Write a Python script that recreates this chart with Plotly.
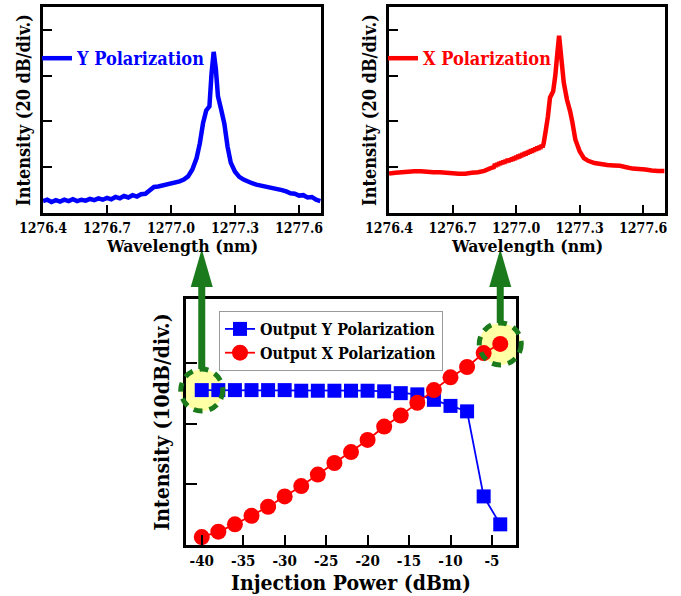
import plotly.graph_objects as go

W, H = 681, 596

# ---------------- data ----------------
wl_y = [1276.40, 1276.42, 1276.44, 1276.46, 1276.48, 1276.50, 1276.52, 1276.54, 1276.56, 1276.58,
        1276.60, 1276.62, 1276.64, 1276.66, 1276.68, 1276.70, 1276.72, 1276.74, 1276.76, 1276.78,
        1276.80, 1276.82, 1276.84, 1276.86, 1276.88, 1276.90, 1276.92, 1276.94, 1276.96, 1276.98,
        1277.00, 1277.02, 1277.04, 1277.06, 1277.08, 1277.10, 1277.12, 1277.135, 1277.15, 1277.165,
        1277.18, 1277.19, 1277.20, 1277.21, 1277.22, 1277.235, 1277.25, 1277.265, 1277.28, 1277.30,
        1277.32, 1277.34, 1277.36, 1277.38, 1277.40, 1277.42, 1277.44, 1277.46, 1277.48, 1277.50,
        1277.52, 1277.54, 1277.56, 1277.58, 1277.60, 1277.62, 1277.64, 1277.66, 1277.68, 1277.70]
int_y = [0.26, 0.29, 0.24, 0.28, 0.25, 0.29, 0.26, 0.30, 0.26, 0.29,
         0.27, 0.31, 0.28, 0.32, 0.29, 0.33, 0.30, 0.35, 0.32, 0.37,
         0.34, 0.39, 0.36, 0.41, 0.42, 0.50, 0.57, 0.58, 0.60, 0.62,
         0.64, 0.67, 0.69, 0.73, 0.80, 0.95, 1.20, 1.52, 1.96, 2.24,
         2.33, 3.05, 3.52, 3.15, 2.55, 2.26, 1.95, 1.45, 1.10, 0.90,
         0.79, 0.73, 0.68, 0.65, 0.62, 0.60, 0.58, 0.57, 0.55, 0.54,
         0.50, 0.47, 0.43, 0.42, 0.38, 0.39, 0.34, 0.35, 0.29, 0.26]

wl_x = [1276.40, 1276.43, 1276.46, 1276.49, 1276.52, 1276.55, 1276.58, 1276.61, 1276.64, 1276.67,
        1276.70, 1276.73, 1276.76, 1276.79, 1276.82, 1276.85, 1276.88, 1276.895, 1276.90, 1276.905,
        1276.91, 1276.915, 1276.92, 1276.925, 1276.93, 1276.935, 1276.94, 1276.945, 1276.95, 1276.955,
        1276.96, 1276.965, 1276.97, 1276.975, 1276.98, 1276.985, 1276.99, 1276.995, 1277.00, 1277.005,
        1277.01, 1277.015, 1277.02, 1277.025, 1277.03, 1277.035, 1277.04, 1277.045, 1277.05, 1277.055,
        1277.06, 1277.065, 1277.07, 1277.075, 1277.08, 1277.085, 1277.09, 1277.095, 1277.10, 1277.105,
        1277.11, 1277.115, 1277.12, 1277.125, 1277.13, 1277.14, 1277.15, 1277.16, 1277.175, 1277.185,
        1277.195, 1277.203, 1277.212, 1277.225, 1277.24, 1277.255, 1277.265, 1277.28, 1277.30, 1277.32,
        1277.34, 1277.37, 1277.40, 1277.43, 1277.46, 1277.49, 1277.52, 1277.55, 1277.58, 1277.61,
        1277.64, 1277.67, 1277.70]
int_x = [0.86, 0.88, 0.89, 0.90, 0.91, 0.91, 0.90, 0.89, 0.89, 0.88,
         0.87, 0.86, 0.86, 0.88, 0.89, 0.92, 0.98, 1.00, 1.07, 1.01,
         1.09, 1.03, 1.11, 1.05, 1.13, 1.07, 1.14, 1.08, 1.16, 1.10,
         1.18, 1.11, 1.19, 1.13, 1.21, 1.14, 1.23, 1.16, 1.25, 1.18,
         1.27, 1.20, 1.29, 1.22, 1.31, 1.24, 1.33, 1.26, 1.35, 1.28,
         1.37, 1.30, 1.39, 1.32, 1.41, 1.34, 1.43, 1.36, 1.45, 1.38,
         1.47, 1.40, 1.49, 1.43, 1.52, 1.80, 2.10, 2.52, 2.66, 3.00,
         3.50, 3.87, 3.45, 2.85, 2.48, 2.22, 2.00, 1.60, 1.35, 1.20,
         1.14, 1.09, 1.07, 1.05, 1.04, 1.03, 1.00, 0.97, 0.96, 0.95,
         0.93, 0.92, 0.92]

power = [-40, -38, -36, -34, -32, -30, -28, -26, -24, -22,
         -20, -18, -16, -14, -12, -10, -8, -6, -4]
out_y = [2.55, 2.55, 2.55, 2.55, 2.55, 2.55, 2.54, 2.54, 2.54, 2.54,
         2.54, 2.53, 2.50, 2.48, 2.39, 2.29, 2.20, 0.80, 0.34]
out_x = [0.13, 0.22, 0.34, 0.48, 0.63, 0.80, 0.97, 1.16, 1.35, 1.53,
         1.73, 1.95, 2.13, 2.34, 2.55, 2.76, 2.93, 3.16, 3.31]

wl_ticks = [1276.4, 1276.7, 1277.0, 1277.3, 1277.6]
wl_ticktext = ["1276.4", "1276.7", "1277.0", "1277.3", "1277.6"]
power_ticks = [-40, -35, -30, -25, -20, -15, -10, -5]
power_ticktext = ["-40", "-35", "-30", "-25", "-20", "-15", "-10", "-5"]
top_div_ticks = [0, 1, 2, 3, 4]
bot_div_ticks = [0, 1, 2, 3]

# ---------------- style ----------------
FONT = "DejaVu Serif Condensed"
BLUE = "#0000ff"
RED = "#ff0000"
GREEN = "#1b7a1b"
BLACK = "#000000"

dom_tl_x = [43 / W, 321 / W]
dom_tr_x = [389 / W, 665 / W]
dom_top_y = [1 - 213 / H, 1 - 7 / H]
dom_b_x = [186 / W, 516 / W]
dom_b_y = [1 - 545 / H, 1 - 299 / H]

wl_range = [1276.4, 1277.703]
top_range = [0, 4.5]
pw_range = [-41.9, -2.1]
bot_range = [0, 4.05]

fig = go.Figure()

fig.add_trace(go.Scatter(x=wl_y, y=int_y, mode="lines", name="Y Polarization",
                         line=dict(color=BLUE, width=4.5), xaxis="x", yaxis="y",
                         legend="legend2"))
fig.add_trace(go.Scatter(x=wl_x, y=int_x, mode="lines", name="X Polarization",
                         line=dict(color=RED, width=4.5, simplify=False), xaxis="x2", yaxis="y2",
                         legend="legend3"))
fig.add_trace(go.Scatter(x=power, y=out_y, mode="lines+markers", name="Output Y Polarization",
                         line=dict(color=BLUE, width=1.8),
                         marker=dict(symbol="square", size=14, color=BLUE),
                         xaxis="x3", yaxis="y3", legend="legend"))
fig.add_trace(go.Scatter(x=power, y=out_x, mode="lines+markers", name="Output X Polarization",
                         line=dict(color=RED, width=1.8),
                         marker=dict(symbol="circle", size=16, color=RED),
                         xaxis="x3", yaxis="y3", legend="legend"))


def axis_common(**kw):
    d = dict(showline=True, linewidth=3, linecolor=BLACK, mirror=True, showgrid=False,
             zeroline=False, ticks="inside", tickwidth=2, tickcolor=BLACK, automargin=False)
    d.update(kw)
    return d


def bold(size, color=BLACK):
    return dict(family=FONT, size=size, color=color, weight="bold")


fig.update_layout(
    width=W, height=H, margin=dict(l=0, r=0, t=0, b=0, autoexpand=False),
    paper_bgcolor="white", plot_bgcolor="white",
    font=dict(family=FONT, color=BLACK),
    xaxis=axis_common(domain=dom_tl_x, anchor="y", range=wl_range, tickvals=wl_ticks,
                      ticktext=wl_ticktext, ticklen=8, tickfont=bold(14)),
    yaxis=axis_common(domain=dom_top_y, anchor="x", range=top_range, tickvals=top_div_ticks,
                      showticklabels=False, ticklen=9,
                      title=dict(text="Intensity (20 dB/div.)", standoff=5, font=bold(18))),
    xaxis2=axis_common(domain=dom_tr_x, anchor="y2", range=wl_range, tickvals=wl_ticks,
                       ticktext=wl_ticktext, ticklen=8, tickfont=bold(14)),
    yaxis2=axis_common(domain=dom_top_y, anchor="x2", range=top_range, tickvals=top_div_ticks,
                       showticklabels=False, ticklen=9,
                       title=dict(text="Intensity (20 dB/div.)", standoff=5, font=bold(18))),
    xaxis3=axis_common(domain=dom_b_x, anchor="y3", range=pw_range, tickvals=power_ticks,
                       ticktext=power_ticktext, ticklen=10, tickfont=bold(15),
                       title=dict(text="Injection Power (dBm)", standoff=2, font=bold(21))),
    yaxis3=axis_common(domain=dom_b_y, anchor="x3", range=bot_range, tickvals=bot_div_ticks,
                       showticklabels=False, ticklen=11,
                       title=dict(text="Intensity (10dB/div.)", standoff=8, font=bold(21))),
    legend=dict(x=219 / W, y=1 - 311 / H, xanchor="left", yanchor="top",
                bgcolor="white", bordercolor="#999999", borderwidth=1,
                font=bold(16), itemwidth=30, tracegroupgap=0),
    legend2=dict(x=37 / W, y=1 - 40 / H, xanchor="left", yanchor="top",
                 bgcolor="rgba(0,0,0,0)", font=bold(18, BLUE), itemwidth=30),
    legend3=dict(x=383 / W, y=1 - 40 / H, xanchor="left", yanchor="top",
                 bgcolor="rgba(0,0,0,0)", font=bold(18, RED), itemwidth=30),
    showlegend=True,
)

# x-axis titles of the two spectra, placed tight under the tick labels
title_y = 1 - 246 / H
fig.add_annotation(text="Wavelength (nm)", xref="paper", yref="paper",
                   x=(dom_tl_x[0] + dom_tl_x[1]) / 2, y=title_y, xanchor="center",
                   yanchor="middle", showarrow=False, font=bold(17.5))
fig.add_annotation(text="Wavelength (nm)", xref="paper", yref="paper",
                   x=(dom_tr_x[0] + dom_tr_x[1]) / 2, y=title_y, xanchor="center",
                   yanchor="middle", showarrow=False, font=bold(17.5))


def to_paper(v, rng, dom):
    return dom[0] + (v - rng[0]) / (rng[1] - rng[0]) * (dom[1] - dom[0])


R = 21
highlights = [(power[0], out_y[0]), (power[-1], out_x[-1])]
shapes = []
for (px_, py_) in highlights:
    cx = to_paper(px_, pw_range, dom_b_x)
    cy = to_paper(py_, bot_range, dom_b_y)
    shapes.append(dict(type="circle", xref="paper", yref="paper", layer="below",
                       x0=cx - R / W, x1=cx + R / W, y0=cy - R / H, y1=cy + R / H,
                       fillcolor="rgba(255,255,150,0.85)", line=dict(width=0)))
for (px_, py_) in highlights:
    cx = to_paper(px_, pw_range, dom_b_x)
    cy = to_paper(py_, bot_range, dom_b_y)
    shapes.append(dict(type="circle", xref="paper", yref="paper", layer="above",
                       x0=cx - R / W, x1=cx + R / W, y0=cy - R / H, y1=cy + R / H,
                       line=dict(color=GREEN, width=5, dash="9px,7px")))
    head_base = 1 - 287 / H
    head_tip = 1 - 249 / H
    sw = 3.5 / W
    hw = 11 / W
    shapes.append(dict(type="rect", xref="paper", yref="paper", layer="above",
                       x0=cx - sw, x1=cx + sw, y0=cy + R / H, y1=head_base,
                       fillcolor=GREEN, line=dict(width=0)))
    shapes.append(dict(type="path", xref="paper", yref="paper", layer="above",
                       path=f"M {cx - hw} {head_base} L {cx + hw} {head_base} L {cx} {head_tip} Z",
                       fillcolor=GREEN, line=dict(width=0)))

fig.update_layout(shapes=shapes)

fig.write_html("out.html")
